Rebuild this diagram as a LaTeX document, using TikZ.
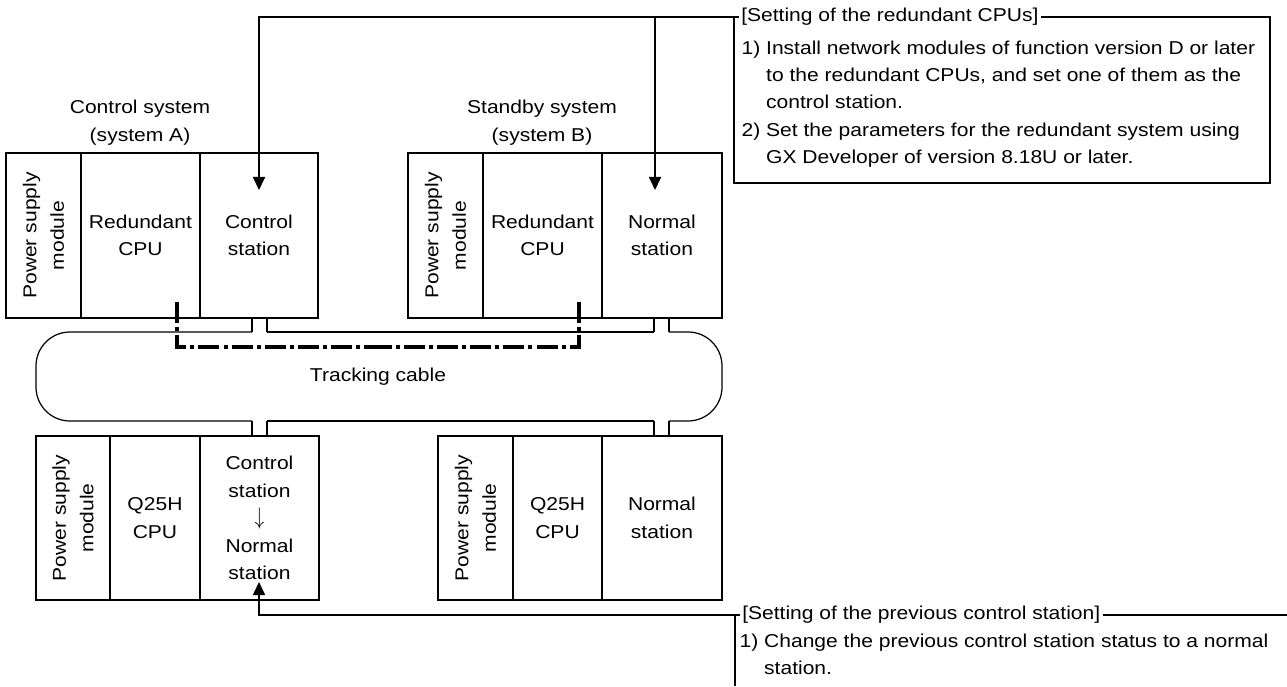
\documentclass[tikz,border=0pt]{standalone}
\usepackage{fontspec}
\setmainfont{Liberation Sans}[FakeStretch=1.13]
\usetikzlibrary{arrows.meta,positioning,calc}

\begin{document}
\begin{tikzpicture}[
    x=0.02cm,y=-0.02cm,
    line width=0.7pt,
    font=\fontsize{10.6}{15.6}\selectfont,
    module/.style={draw,align=center,outer sep=0pt,inner sep=1pt,minimum height=3.3cm},
    psu/.style={module,rotate=90,minimum width=3.3cm,minimum height=1.5cm},
    caption/.style={align=center},
    notebox/.style={draw,outer sep=0pt,minimum width=10.72cm,minimum height=3.32cm},
    notetitle/.style={fill=white,inner xsep=1.5pt,inner ysep=0pt,anchor=west},
    notetext/.style={align=left,inner sep=0pt,anchor=north west},
    arrow/.style={-{Triangle[length=7.5pt,width=7pt]}},
    trackline/.style={line width=1.8pt,dash pattern=on 12pt off 2.3pt on 2.3pt off 2.3pt}
  ]
  \useasboundingbox (0,0) rectangle (1287,686);

  % control system (A)
  \node[caption] (sysA) at (140,122.5) {Control system\\(system A)};
  \node[psu] (psuA) at (43.5,235.5) {Power supply\\module};
  \node[module,minimum width=2.38cm,anchor=west] (cpuA) at (psuA.south) {Redundant\\CPU};
  \node[module,minimum width=2.36cm,right=0pt of cpuA] (netA) {Control\\station};

  % standby system (B)
  \node[caption] (sysB) at (542,122.5) {Standby system\\(system B)};
  \node[psu] (psuB) at (445.5,235.5) {Power supply\\module};
  \node[module,minimum width=2.38cm,anchor=west] (cpuB) at (psuB.south) {Redundant\\CPU};
  \node[module,minimum width=2.4cm,right=0pt of cpuB] (netB) {Normal\\station};

  % lower stations
  \node[psu,minimum width=3.28cm,minimum height=1.48cm] (psuC) at (73,518) {Power supply\\module};
  \node[module,minimum height=3.28cm,minimum width=1.8cm,anchor=west] (cpuC) at (psuC.south) {Q25H\\CPU};
  \node[module,minimum height=3.28cm,minimum width=2.38cm,right=0pt of cpuC] (netC) {Control\\station\\\scalebox{1}[1.25]{$\downarrow$}\\Normal\\station};

  \node[psu,minimum width=3.28cm,minimum height=1.5cm] (psuD) at (475.5,518) {Power supply\\module};
  \node[module,minimum height=3.28cm,minimum width=1.78cm,anchor=west] (cpuD) at (psuD.south) {Q25H\\CPU};
  \node[module,minimum height=3.28cm,minimum width=2.4cm,right=0pt of cpuD] (netD) {Normal\\station};

  % tracking cable
  \draw[rounded corners=0.68cm] (252,332) -- (36,332) -- (36,421) -- (252,421);
  \draw (267,332) -- (654,332) (267,421) -- (654,421);
  \draw[rounded corners=0.68cm] (669,332) -- (722,332) -- (722,421) -- (669,421);
  \foreach \x in {252,267,654,669}
    \draw (\x,318) -- (\x,332) (\x,421) -- (\x,436);
  \node (cable) at (378,377) {Tracking cable};

  \coordinate (trkA) at (177,302);
  \coordinate (trkB) at (579,302);
  \coordinate (trkM) at (378,347);
  \draw[trackline] (trkA) |- (trkM);
  \draw[trackline] (trkB) |- (trkM);

  % note on the redundant CPUs
  \node[notebox,anchor=north west] (note1) at (734,17) {};
  \coordinate (tipA) at (259,190);
  \coordinate (tipB) at (655,190);
  \draw[arrow] (note1.north west) -| (tipA);
  \draw[arrow] (tipB |- note1.north west) -- (tipB);
  \node[notetitle] (title1) at ($(note1.north west)+(4,0)$) {[Setting of the redundant CPUs]};
  \node[notetext] (text1) at (741,40) {1) Install network modules of function version D or later\\
    \phantom{1) }to the redundant CPUs, and set one of them as the\\
    \phantom{1) }control station.\\
    2) Set the parameters for the redundant system using\\
    \phantom{1) }GX Developer of version 8.18U or later.};

  % note on the previous control station
  \coordinate (note2) at (735,615);
  \coordinate (tipC) at (259,582);
  \draw (735,686) -- (note2) -- (1287,615);
  \draw[arrow] (note2) -| (tipC);
  \node[notetitle] (title2) at ($(note2)+(4,0)$) {[Setting of the previous control station]};
  \node[notetext] (text2) at (739,633) {1) Change the previous control station status to a normal\\
    \phantom{1) }station.};
\end{tikzpicture}
\end{document}
